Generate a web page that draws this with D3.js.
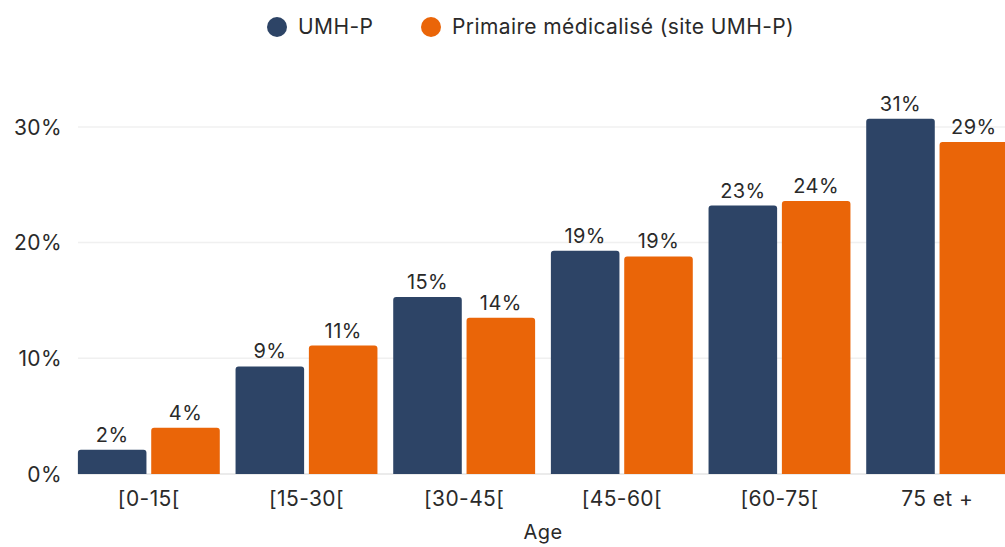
<!DOCTYPE html>
<html>
<head>
<meta charset="utf-8">
<script src="https://cdn.jsdelivr.net/npm/d3@7"></script>
<style>
  body { margin: 0; background: #fff; }
  svg text { font-family: Inter, "Noto Sans", sans-serif; fill: #2a2a2a; letter-spacing: 0.4px; }
</style>
</head>
<body>
<div id="chart"></div>
<script>
'use strict';
var categories = ['[0-15[', '[15-30[', '[30-45[', '[45-60[', '[60-75[', '75 et +'];
var seriesNames = ['UMH-P', 'Primaire médicalisé (site UMH-P)'];
var umhp = [2.1, 9.3, 15.3, 19.3, 23.2, 30.7];
var primaire = [4.0, 11.1, 13.5, 18.8, 23.6, 28.7];
var yTicks = [0, 10, 20, 30];
var colors = ['#2d4466', '#ea6508'];

var width = 1005,
    height = 547;

var svg = d3.select('#chart').append('svg')
    .attr('width', width)
    .attr('height', height);

var x = d3.scaleBand().domain(categories).range([70, 1016]).paddingInner(0.1).paddingOuter(0.05);
var xs = d3.scaleBand().domain(seriesNames).range([0, x.bandwidth()]).paddingInner(0.065);
var y = d3.scaleLinear().domain([0, 30]).range([474, 126.9]);

// grid
svg.append('g').selectAll('line').data(yTicks).enter().append('line')
    .attr('x1', 78).attr('x2', width)
    .attr('y1', function (d) { return y(d); })
    .attr('y2', function (d) { return y(d); })
    .attr('stroke', function (d) { return d === 0 ? '#e4e4e4' : '#f0f0f0'; })
    .attr('stroke-width', 1.5);

var yAxis = svg.append('g')
    .attr('transform', 'translate(62,0)')
    .call(d3.axisLeft(y).tickValues(yTicks).tickSize(0).tickPadding(0).tickFormat(function (d) { return d + '%'; }));
yAxis.select('.domain').remove();
yAxis.selectAll('text').style('font-size', '21px').attr('dy', '0.35em');

// bars
var data = categories.map(function (c, i) {
    return { cat: c, values: [umhp[i], primaire[i]] };
});

var groups = svg.append('g').selectAll('g.grp').data(data).enter().append('g')
    .attr('class', 'grp')
    .attr('transform', function (d) { return 'translate(' + x(d.cat) + ',0)'; });

function barPath(x0, w, top, bottom, r) {
    return 'M' + x0 + ',' + bottom +
        'V' + (top + r) +
        'Q' + x0 + ',' + top + ' ' + (x0 + r) + ',' + top +
        'H' + (x0 + w - r) +
        'Q' + (x0 + w) + ',' + top + ' ' + (x0 + w) + ',' + (top + r) +
        'V' + bottom + 'Z';
}

groups.selectAll('path').data(function (d) {
    return d.values.map(function (v, j) { return { name: seriesNames[j], v: v, j: j }; });
}).enter().append('path')
    .attr('d', function (d) { return barPath(xs(d.name), xs.bandwidth(), y(d.v), y(0), 3); })
    .attr('fill', function (d) { return colors[d.j]; });

groups.selectAll('text.val').data(function (d) {
    return d.values.map(function (v, j) { return { name: seriesNames[j], v: v }; });
}).enter().append('text')
    .attr('class', 'val')
    .attr('x', function (d) { return xs(d.name) + xs.bandwidth() / 2; })
    .attr('y', function (d) { return y(d.v) - 8; })
    .attr('text-anchor', 'middle')
    .style('font-size', '20px')
    .text(function (d) { return Math.round(d.v) + '%'; });

// x axis labels
var xAxis = svg.append('g')
    .attr('transform', 'translate(0,' + y(0) + ')')
    .call(d3.axisBottom(x).tickSize(0).tickPadding(0));
xAxis.select('.domain').remove();
xAxis.selectAll('text').attr('dy', null).attr('y', 32).style('font-size', '21px');

svg.append('text')
    .attr('x', (x.range()[0] + x.range()[1]) / 2)
    .attr('y', 539)
    .attr('text-anchor', 'middle')
    .style('font-size', '20px')
    .text('Age');

// legend
var legendX = [277, 431];
var legend = svg.append('g').selectAll('g').data(seriesNames).enter().append('g')
    .attr('transform', function (d, i) { return 'translate(' + legendX[i] + ',27)'; });
legend.append('circle').attr('r', 10).attr('fill', function (d, i) { return colors[i]; });
legend.append('text')
    .attr('x', 21).attr('dy', '0.35em')
    .style('font-size', '21px')
    .text(function (d) { return d; });
</script>
</body>
</html>
